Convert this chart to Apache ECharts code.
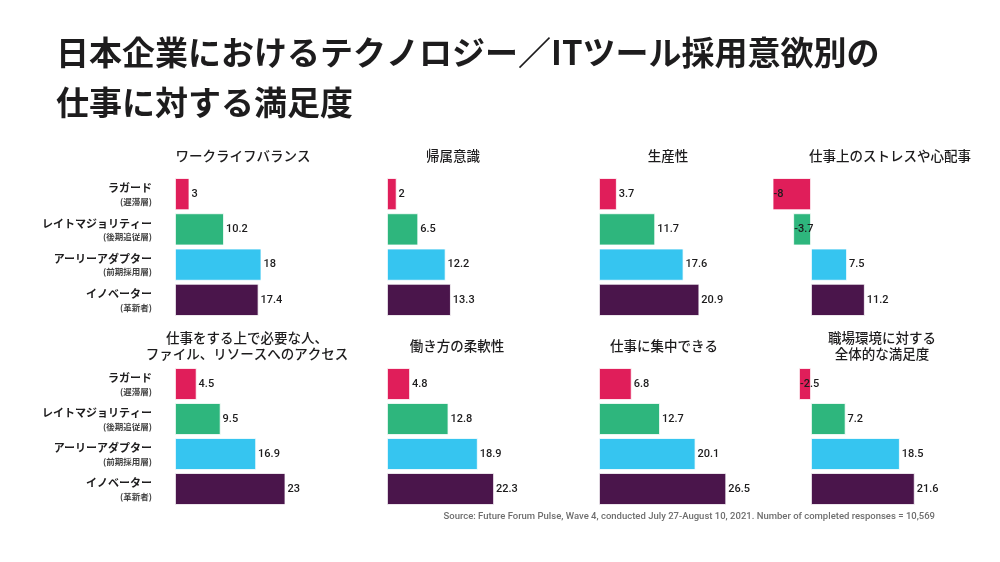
<!DOCTYPE html>
<html><head><meta charset="utf-8">
<script src="https://cdn.jsdelivr.net/npm/echarts@6/dist/echarts.min.js"></script>
<style>html,body{margin:0;padding:0;background:#fff}#c{width:1000px;height:562px}</style>
</head><body><div id="c"></div>
<script>
const mainTitle = '日本企業におけるテクノロジー／ITツール採用意欲別の\n仕事に対する満足度';
const sourceNote = 'Source: Future Forum Pulse, Wave 4, conducted July 27-August 10, 2021. Number of completed responses = 10,569';
const categories = ['ラガード', 'レイトマジョリティー', 'アーリーアダプター', 'イノベーター'];
const subLabels = ['遅滞層', '後期追従層', '前期採用層', '革新者'];
const panelTitles = ['ワークライフバランス', '帰属意識', '生産性', '仕事上のストレスや心配事',
  '仕事をする上で必要な人、\nファイル、リソースへのアクセス', '働き方の柔軟性', '仕事に集中できる', '職場環境に対する\n全体的な満足度'];
const workLifeBalance = [3, 10.2, 18, 17.4];
const belonging = [2, 6.5, 12.2, 13.3];
const productivity = [3.7, 11.7, 17.6, 20.9];
const stress = [-8, -3.7, 7.5, 11.2];
const access = [4.5, 9.5, 16.9, 23];
const flexibility = [4.8, 12.8, 18.9, 22.3];
const focus = [6.8, 12.7, 20.1, 26.5];
const overall = [-2.5, 7.2, 18.5, 21.6];
const panelValues = [workLifeBalance, belonging, productivity, stress, access, flexibility, focus, overall];
const barColors = ['#E01E5A', '#2EB67D', '#36C5F0', '#4A154B'];

const chart = echarts.init(document.getElementById('c'));
const S = 4.8;             // px per unit
const XMAX = 30;
const titleX = [243, 453, 668, 890, 247, 457, 664, 882];
const grids = [], xAxes = [], yAxes = [], series = [], graphics = [];
const CJK = '"Noto Sans CJK JP", "Noto Sans", sans-serif';

panelValues.forEach((vals, i) => {
  const r = Math.floor(i / 4), c = i % 4;
  const zero = 175 + 212 * c;
  const hasNeg = vals.some(v => v < 0);
  const xmin = hasNeg ? -10 : 0;
  grids.push({
    left: zero + xmin * S,
    width: (XMAX - xmin) * S,
    top: r === 0 ? 176.5 : 366.5,
    height: r === 0 ? 141 : 140,
    containLabel: false
  });
  xAxes.push({ type: 'value', gridIndex: i, min: xmin, max: XMAX, show: false });
  yAxes.push({
    type: 'category', gridIndex: i, data: categories, inverse: true,
    axisLine: { show: false }, axisTick: { show: false }, splitLine: { show: false },
    axisLabel: {
      show: c === 0, margin: 23, align: 'right',
      formatter: (v, idx) => `{a|${v}}\n{b|(${subLabels[idx]})}`,
      rich: {
        a: { fontSize: 11, fontWeight: 'bold', color: '#1d1c1d', lineHeight: 15, fontFamily: CJK, align: 'right' },
        b: { fontSize: 8.5, fontWeight: 'bold', color: '#444', lineHeight: 12, fontFamily: CJK, align: 'right' }
      }
    }
  });
  series.push({
    type: 'bar', xAxisIndex: i, yAxisIndex: i,
    barCategoryGap: '9%',
    data: vals.map((v, k) => v < 0
      ? { value: v, itemStyle: { color: barColors[k] }, label: { position: 'insideLeft', distance: 1 } }
      : { value: v, itemStyle: { color: barColors[k] } }),
    itemStyle: { borderColor: '#ffffff', borderWidth: 0.8 },
    label: {
      show: true, position: 'right', distance: 2,
      color: '#1d1c1d', fontSize: 11, fontWeight: 500,
      fontFamily: 'Roboto, "Liberation Sans", sans-serif'
    },
    animation: false
  });
  const multi = panelTitles[i].indexOf('\n') >= 0;
  graphics.push({
    type: 'text', x: titleX[i], y: r === 0 ? 156 : (multi ? 345.5 : 346),
    style: {
      text: panelTitles[i], fill: '#1d1c1d', align: 'center', verticalAlign: 'middle',
      fontSize: 13.5, fontWeight: 500, fontFamily: CJK, lineHeight: 16
    }
  });
});

graphics.push({
  type: 'text', x: 56, y: 77,
  style: {
    text: mainTitle, fill: '#1d1c1d', align: 'left', verticalAlign: 'middle',
    fontSize: 33, fontWeight: 'bold', fontFamily: CJK, lineHeight: 50
  }
});
graphics.push({
  type: 'text', x: 935, y: 517,
  style: {
    text: sourceNote, fill: '#6e6e6e', align: 'right', verticalAlign: 'middle',
    fontSize: 9.5, fontWeight: 500, fontFamily: 'Roboto, "Noto Sans", sans-serif'
  }
});

chart.setOption({
  backgroundColor: '#ffffff',
  animation: false,
  grid: grids, xAxis: xAxes, yAxis: yAxes, series: series,
  graphic: graphics
});
</script></body></html>
